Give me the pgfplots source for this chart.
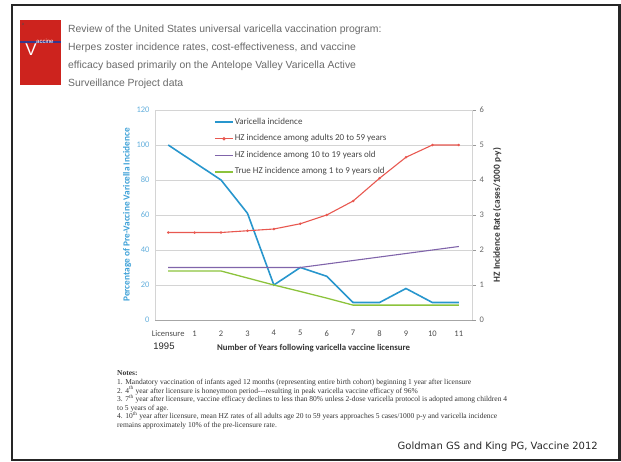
\documentclass[border=0pt]{standalone}
\usepackage{pgfplots}
\pgfplotsset{compat=1.18}
\usepackage{fontspec}
\setmainfont{Carlito}
\newfontfamily\arialf{Liberation Sans}
\newfontfamily\timesf{Liberation Serif}
\newfontfamily\verdanaf{DejaVu Sans}
\definecolor{cBlue}{RGB}{40,150,205}
\definecolor{cRed}{RGB}{232,88,80}
\definecolor{cPurple}{RGB}{128,100,170}
\definecolor{cGreen}{RGB}{140,195,60}
\definecolor{cTick}{RGB}{100,175,220}
\definecolor{cYlab}{RGB}{60,160,215}
\definecolor{cGrid}{RGB}{212,212,212}
\definecolor{cTitle}{RGB}{105,105,105}
\definecolor{cLogo}{RGB}{205,35,30}
\definecolor{cNavy}{RGB}{55,55,140}
\definecolor{cLeg}{RGB}{70,70,70}
\begin{document}
\begin{tikzpicture}
\begin{scope}[x=1pt,y=-1pt]
\useasboundingbox (0,0) rectangle (621,461);
\draw[line width=2.2pt, black!85] (12,5) rectangle (619.5,460);
% logo
\fill[cLogo] (20,20) rectangle (61,85);
\draw[cNavy, line width=1.4pt] (20,42) -- (61,42);
\node[text=white, font=\arialf\fontsize{17}{17}\selectfont, inner sep=0pt] at (31,50) {V};
\node[text=white, font=\arialf\fontsize{6}{6}\selectfont, inner sep=0pt, anchor=west] at (36,41) {accine};
\node[text=black!70, font=\arialf\fontsize{4}{4}\selectfont, inner sep=0pt] at (23,24) {a};
% title
\begin{scope}[every node/.style={anchor=base west, inner sep=0pt, text=cTitle, font=\arialf\fontsize{10.4}{12}\selectfont}]
\node at (68,32) {Review of the United States universal varicella vaccination program:};
\node at (68,50.5) {Herpes zoster incidence rates, cost-effectiveness, and vaccine};
\node at (68,68.5) {efficacy based primarily on the Antelope Valley Varicella Active};
\node at (68,86) {Surveillance Project data};
\end{scope}
% 1995
\node[font=\arialf\fontsize{9.5}{10}\selectfont, text=black!85, inner sep=0pt] at (164,346) {1995};
% notes
\begin{scope}[every node/.style={anchor=base west, inner sep=0pt, text=black!80, font=\timesf\fontsize{7.5}{8}\selectfont}]
\node at (117,375.5) {\textbf{Notes:}};
\node at (117,384) {1. Mandatory vaccination of infants aged 12 months (representing entire birth cohort) beginning 1 year after licensure};
\node at (117,393) {2. 4\textsuperscript{th} year after licensure is honeymoon period---resulting in peak varicella vaccine efficacy of 96\%};
\node at (117,401.5) {3. 7\textsuperscript{th} year after licensure, vaccine efficacy declines to less than 80\% unless 2-dose varicella protocol is adopted among children 4};
\node at (117,410) {to 5 years of age.};
\node at (117,418.5) {4. 10\textsuperscript{th} year after licensure, mean HZ rates of all adults age 20 to 59 years approaches 5 cases/1000 p-y and varicella incidence};
\node at (117,427) {remains approximately 10\% of the pre-licensure rate.};
\end{scope}
\node[anchor=base east, inner sep=0pt, text=black!85, font=\verdanaf\fontsize{10}{11}\selectfont] at (598,449) {Goldman GS and King PG, Vaccine 2012};
\end{scope}

\begin{axis}[
  at={(155pt,-320pt)}, anchor=south west,
  scale only axis, width=317pt, height=210pt,
  xmin=-0.5, xmax=11.5, ymin=0, ymax=120,
  xtick={0,...,11},
  xticklabels={Licensure,1,2,3,4,5,6,7,8,9,10,11},
  ytick={0,20,...,120},
  axis y line*=left, axis x line*=bottom,
  axis line style={cGrid, line width=0.7pt},
  x axis line style={black!35},
  major tick length=0pt,
  ymajorgrids, grid style={cGrid, line width=0.6pt},
  /pgf/number format/assume math mode=true,
  tick label style={font=\fontsize{8.5}{9}\selectfont},
  yticklabel style={text=cTick, xshift=-2pt},
  xticklabel style={text=black!70, yshift=-7pt},
  xlabel={\textbf{Number of Years following varicella vaccine licensure}},
  xlabel style={at={(axis description cs:0.5,0)}, anchor=center, yshift=-28pt, font=\fontsize{8.8}{9}\selectfont, text=black!80},
  ylabel={\textbf{Percentage of Pre-Vaccine Varicella Incidence}},
  ylabel style={at={(axis description cs:-0.088,0.5)}, anchor=center, font=\fontsize{9.3}{10}\selectfont, text=cYlab},
  legend style={at={(axis description cs:0.186,0.964)}, anchor=north west, draw=none, fill=none, inner sep=0pt,
    font=\fontsize{9}{9}\selectfont, row sep=7.5pt,
    nodes={inner sep=1pt, text height=5.5pt, text depth=1.5pt}},
  legend cell align=left,
]
\addlegendimage{color=cBlue, line width=1.6pt, legend image code/.code={\draw[color=cBlue, line width=1.6pt] (0pt,0pt) -- (18pt,0pt);}}
\addlegendentry{\textcolor{cLeg}{Varicella incidence}}
\addlegendimage{color=cRed, line width=1.4pt, legend image code/.code={\draw[color=cRed, line width=1.4pt] (0pt,0pt) -- (18pt,0pt); \fill[cRed] (9pt,0pt) circle (0.9pt);}}
\addlegendentry{\textcolor{cLeg}{HZ incidence among adults 20 to 59 years}}
\addlegendimage{color=cPurple, line width=1.4pt, legend image code/.code={\draw[color=cPurple, line width=1.4pt] (0pt,0pt) -- (18pt,0pt);}}
\addlegendentry{\textcolor{cLeg}{HZ incidence among 10 to 19 years old}}
\addlegendimage{color=cGreen, line width=1.6pt, legend image code/.code={\draw[color=cGreen, line width=1.6pt] (0pt,0pt) -- (18pt,0pt);}}
\addlegendentry{\textcolor{cLeg}{True HZ incidence among 1 to 9 years old}}
\addplot[color=cBlue, line width=1.6pt, forget plot] coordinates {(0,100) (1,90) (2,80) (3,61) (4,20) (5,30) (6,25) (7,10) (8,10) (9,18) (10,10) (11,10)};
\addplot[color=cRed, line width=1.1pt, mark=*, mark size=0.6pt, forget plot] coordinates {(0,50) (1,50) (2,50) (3,51) (4,52) (5,55) (6,60) (7,68) (8,81) (9,93) (10,100) (11,100)};
\addplot[color=cPurple, line width=1.1pt, forget plot] coordinates {(0,30) (1,30) (2,30) (3,30) (4,30) (5,30) (6,32) (7,34) (8,36) (9,38) (10,40) (11,42)};
\addplot[color=cGreen, line width=1.3pt, forget plot] coordinates {(0,28) (1,28) (2,28) (3,24) (4,20) (5,16.3) (6,12.5) (7,8.5) (8,8.5) (9,8.5) (10,8.5) (11,8.5)};
\end{axis}

\begin{axis}[
  at={(155pt,-320pt)}, anchor=south west,
  scale only axis, width=317pt, height=210pt,
  xmin=-0.5, xmax=11.5, ymin=0, ymax=6,
  ytick={0,1,...,6},
  axis y line*=right, axis x line=none,
  axis line style={cGrid, line width=0.7pt},
  tick align=outside, major tick length=4pt, tick style={black!40},
  /pgf/number format/assume math mode=true,
  tick label style={font=\fontsize{8.5}{9}\selectfont},
  yticklabel style={text=black!60},
  ylabel={\textbf{HZ Incidence Rate (cases/1000 p-y)}},
  ylabel style={at={(axis description cs:1.079,0.5)}, anchor=center, font=\fontsize{9.3}{10}\selectfont, text=black!80},
]
\end{axis}
\end{tikzpicture}
\end{document}
